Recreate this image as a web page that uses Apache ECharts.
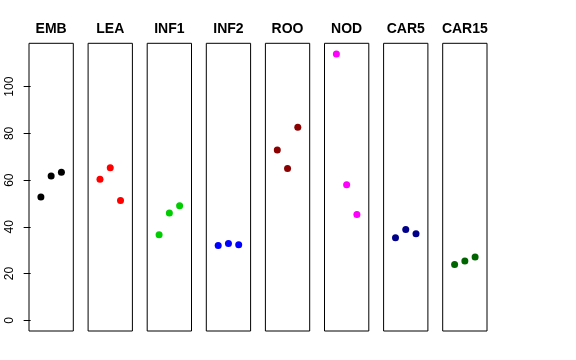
<!DOCTYPE html>
<html><head><meta charset="utf-8">
<script src="https://cdn.jsdelivr.net/npm/echarts@6/dist/echarts.min.js"></script>
<style>html,body{margin:0;padding:0;background:#fff}#c{width:576px;height:360px}</style>
</head><body><div id="c"></div>
<script>
const categories = ["EMB","LEA","INF1","INF2","ROO","NOD","CAR5","CAR15"];
const colors = ["#000000","#FF0000","#00CD00","#0000FF","#8B0000","#FF00FF","#00008B","#006400"];
const xPositions = [1,2,3];
const valEMB = [52.8, 61.8, 63.4];
const valLEA = [60.4, 65.3, 51.3];
const valINF1 = [36.6, 45.9, 49.0];
const valINF2 = [32.0, 32.9, 32.3];
const valROO = [72.9, 65.0, 82.6];
const valNOD = [114.0, 58.0, 45.3];
const valCAR5 = [35.3, 38.9, 37.1];
const valCAR15 = [23.9, 25.4, 27.1];
const yTicks = [0,20,40,60,80,100];
const allVals = [valEMB,valLEA,valINF1,valINF2,valROO,valNOD,valCAR5,valCAR15];

(function () {
const yMax = Math.max(...allVals.flat());
const yMin = 0;
const ext = (yMax - yMin) * 0.04;
const grids = [], xAxes = [], yAxes = [], series = [], titles = [];
const step = 59.1, w = 44.3, gTop = 43.3, h = 287.7, left0 = 29;
categories.forEach((cat, i) => {
  const l = left0 + i * step;
  grids.push({left: l, top: gTop, width: w, height: h, show: true, borderColor: '#000', borderWidth: 1, backgroundColor: 'transparent'});
  xAxes.push({gridIndex: i, type: 'value', min: -0.16, max: 4.16, show: false});
  yAxes.push({gridIndex: i, type: 'value', min: yMin - ext, max: yMax + ext,
    show: i === 0,
    splitLine: {show: false},
    axisLine: {show: false},
    axisTick: {show: true, length: 7, customValues: yTicks, lineStyle: {color: '#000'}},
    axisLabel: {show: true, rotate: 90, margin: 13, customValues: yTicks, color: '#000', fontSize: 12, fontFamily: 'Liberation Sans, Arial, sans-serif'}
  });
  series.push({type: 'scatter', xAxisIndex: i, yAxisIndex: i, symbol: 'circle', symbolSize: 7,
    itemStyle: {color: colors[i], opacity: 1},
    emphasis: {disabled: true},
    data: xPositions.map((x, k) => [x, allVals[i][k]])});
  titles.push({text: cat, left: l + w / 2, top: 22, textAlign: 'center', padding: 0,
    textStyle: {fontSize: 14, fontWeight: 'bold', color: '#000', fontFamily: 'Liberation Sans, Arial, sans-serif'}});
});
const chart = echarts.init(document.getElementById('c'), null, {renderer: 'canvas'});
chart.setOption({animation: false, backgroundColor: '#fff', title: titles, grid: grids, xAxis: xAxes, yAxis: yAxes, series: series});
})();
</script></body></html>
